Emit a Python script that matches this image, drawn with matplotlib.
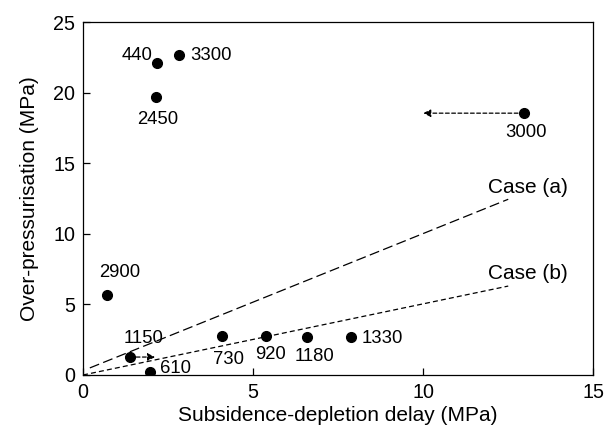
import matplotlib.pyplot as plt

plt.rcParams.update({
    'font.family': 'Liberation Sans',
    'font.size': 13.3,
})

# data points (subsidence-depletion delay, over-pressurisation) and depth labels
x_vals = [2.18, 2.82, 2.15, 12.97, 0.70, 1.38, 1.97, 4.09, 5.38, 6.59, 7.88]
y_vals = [22.1, 22.7, 19.7, 18.55, 5.7, 1.27, 0.2, 2.77, 2.75, 2.7, 2.7]
labels = ['440', '3300', '2450', '3000', '2900', '1150', '610', '730', '920', '1180', '1330']
# label anchors (baseline) in data coords
label_x = [2.03, 3.15, 2.2, 13.03, 1.09, 1.77, 2.25, 4.27, 5.5, 6.8, 8.2]
label_y = [22.3, 22.3, 17.8, 16.88, 6.94, 2.29, 0.17, 0.76, 1.11, 0.99, 2.3]
label_ha = ['right', 'left', 'center', 'center', 'center', 'center', 'left',
            'center', 'center', 'center', 'left']

# trend lines
case_a_x = [0.2, 12.5]
case_a_y = [0.5, 12.45]
case_b_x = [0.0, 12.5]
case_b_y = [0.0, 6.3]

# arrows (start -> end)
arrows = [((1.38, 1.27), (2.12, 1.27)), ((12.97, 18.55), (10.0, 18.55))]

fig = plt.figure(figsize=(6.06, 4.34), dpi=100)
ax = fig.add_axes([0.137, 0.136, 0.842, 0.813])

ax.plot(case_a_x, case_a_y, color='black', lw=0.9, dashes=(8, 3.5))
ax.plot(case_b_x, case_b_y, color='black', lw=0.9, dashes=(4, 2.5))
ax.text(11.9, 12.86, 'Case (a)', ha='left', va='baseline', fontsize=15)
ax.text(11.9, 6.78, 'Case (b)', ha='left', va='baseline', fontsize=15)

for (x0, y0), (x1, y1) in arrows:
    ax.annotate('', xy=(x1, y1), xytext=(x0, y0),
                arrowprops=dict(arrowstyle='-|>', color='black', lw=0.9,
                                linestyle=(0, (3, 2)), mutation_scale=11,
                                shrinkA=0, shrinkB=0))

ax.plot(x_vals, y_vals, 'o', color='black', markersize=7, zorder=5)
for lx, ly, t, ha in zip(label_x, label_y, labels, label_ha):
    ax.text(lx, ly, t, ha=ha, va='baseline')

ax.set_xlim(0, 15)
ax.set_ylim(0, 25)
ax.set_xticks([0, 5, 10, 15])
ax.set_yticks([0, 5, 10, 15, 20, 25])
ax.tick_params(direction='in', length=5, width=0.9, labelsize=14.2)
ax.tick_params(axis='x', pad=6)
ax.tick_params(axis='y', pad=5.5)
for s in ax.spines.values():
    s.set_linewidth(0.9)
ax.set_xlabel('Subsidence-depletion delay (MPa)', fontsize=15, labelpad=3)
ax.set_ylabel('Over-pressurisation (MPa)', fontsize=15, labelpad=10.5)

fig.savefig('out.png', dpi=100)
